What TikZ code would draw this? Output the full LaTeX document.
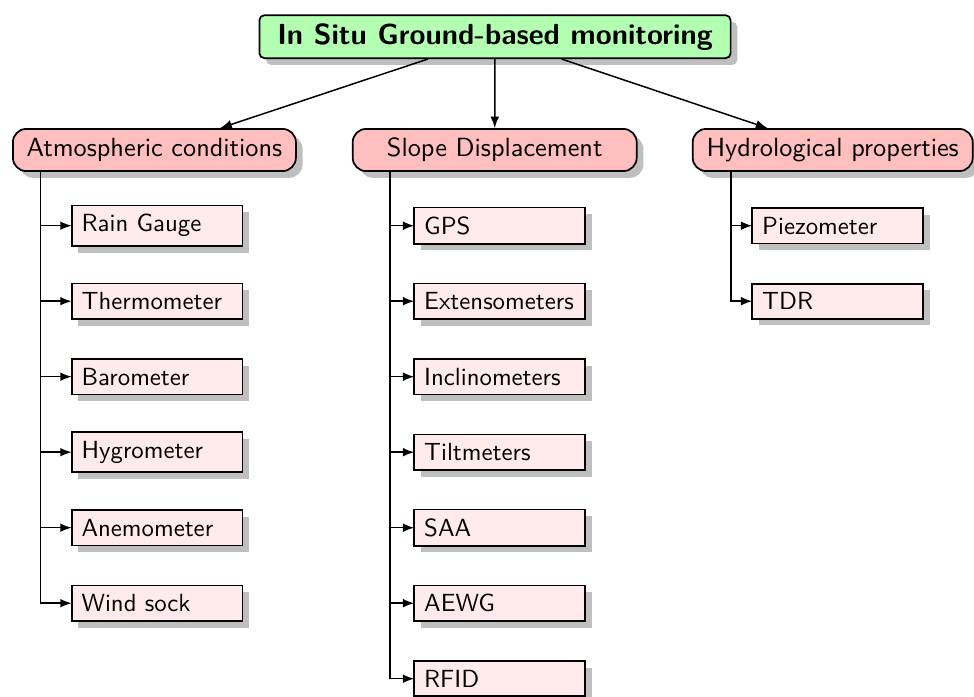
\documentclass[tikz,border=0pt]{standalone}
\usetikzlibrary{shadows,arrows}
\newcommand\pxu{0.4032pt}
\begin{document}
\begin{tikzpicture}[x=0.4032pt,y=-0.4032pt,
  font=\sffamily,
  boxshadow/.style={drop shadow={shadow xshift=2.7pt,shadow yshift=-2.7pt,fill=black!25,opacity=1}},
  rootbox/.style={draw,line width=0.7pt,rounded corners=2pt,fill=green!30,boxshadow,
    minimum width=190pt,minimum height=17.3pt,inner sep=0pt,
    font=\sffamily\bfseries\fontsize{11.7}{14}\selectfont},
  groupbox/.style={draw,line width=0.7pt,rounded corners=5.4pt,fill=red!25,boxshadow,
    minimum height=17pt,inner sep=0pt,font=\sffamily\fontsize{10.6}{12.7}\selectfont},
  itembox/.style={draw,line width=0.7pt,fill=red!8,boxshadow,anchor=west,outer sep=0pt,
    text width=60.9pt,align=left,inner xsep=4pt,inner ysep=3.6pt},
  arr/.style={-latex,line width=0.6pt},
]
\useasboundingbox (0,0) rectangle (974,697);

% top node
\node[rootbox] (root) at (495,36.7) {In Situ Ground-based monitoring};

% the three groups
\node[groupbox,minimum width=283*\pxu] (atm) at (154.4,150) {Atmospheric conditions};
\node[groupbox,minimum width=284*\pxu] (slope) at (494.7,150) {Slope Displacement};
\node[groupbox,minimum width=280*\pxu] (hyd) at (832.7,150) {Hydrological properties};

% atmospheric instruments
\foreach \name/\txt [count=\i from 0] in {rg/Rain Gauge,th/Thermometer,ba/Barometer,hy/Hygrometer,an/Anemometer,ws/Wind sock}
  \node[itembox] (\name) at (71.7,225.7+75.5*\i) {\txt};

% displacement instruments
\foreach \name/\txt [count=\i from 0] in {gps/GPS,ext/Extensometers,inc/Inclinometers,tilt/Tiltmeters,saa/SAA,aewg/AEWG,rfid/RFID}
  \node[itembox] (\name) at (414.3,225.7+75.5*\i) {\txt};

% hydrological instruments
\foreach \name/\txt [count=\i from 0] in {pz/Piezometer,tdr/TDR}
  \node[itembox] (\name) at (752.3,225.7+75.5*\i) {\txt};

% trunks of the three groups
\coordinate (atmtrunk) at ([xshift=11.41pt]atm.south west);
\coordinate (slopetrunk) at ([xshift=15.44pt]slope.south west);
\coordinate (hydtrunk) at ([xshift=15.72pt]hyd.south west);

% connectors from the top node
\draw[arr] (root) -- (atm);
\draw[arr] (root) -- (slope);
\draw[arr] (root) -- (hyd);

\foreach \c in {rg,th,ba,hy,an,ws}
  \draw[arr] (atmtrunk) |- (\c.west);
\foreach \c in {gps,ext,inc,tilt,saa,aewg,rfid}
  \draw[arr] (slopetrunk) |- (\c.west);
\foreach \c in {pz,tdr}
  \draw[arr] (hydtrunk) |- (\c.west);
\end{tikzpicture}
\end{document}
